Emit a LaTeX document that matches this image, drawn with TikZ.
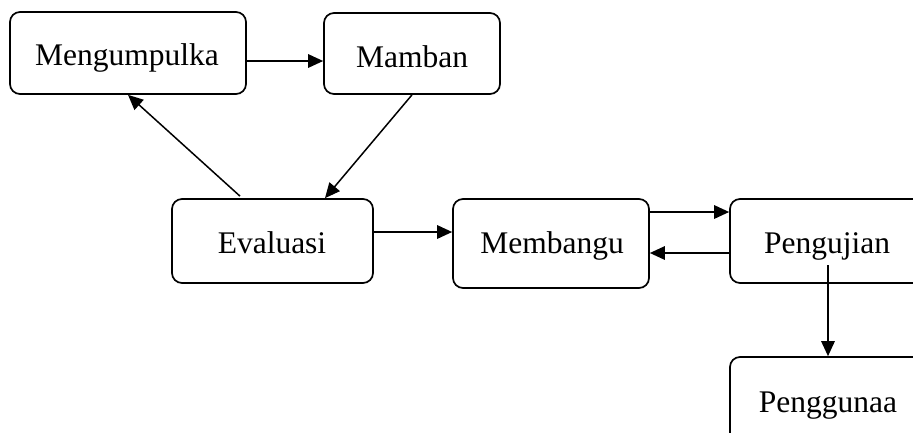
\documentclass[tikz,border=0pt]{standalone}
\usepackage{fontspec}
\setmainfont{Liberation Serif}
\usetikzlibrary{arrows.meta,calc}
\begin{document}
\begin{tikzpicture}[x=1pt,y=-1pt,
  box/.style={draw=black,line width=1.7pt,rounded corners=10pt,minimum width=#1,inner sep=0pt},
  lbl/.style={anchor=base,inner sep=0pt,font=\fontsize{31.5}{36}\selectfont},
  conn/.style={line width=1.5pt,-{Triangle[length=15pt,width=13.5pt]}}]
\useasboundingbox (0,0) rectangle (913,432);
\clip (0,0) rectangle (913,432);
\fill[white] (0,0) rectangle (913,432);
% boxes
\node[box=236pt,minimum height=82pt] (b1) at (128,53) {};
\node[box=176pt,minimum height=81pt] (b2) at (412,53.5) {};
\node[box=201pt,minimum height=84pt] (b3) at (272.5,241) {};
\node[box=196pt,minimum height=89pt] (b4) at (551,243.5) {};
\node[box=270pt,minimum height=84pt] (b5) at (865,241) {};
\node[box=270pt,minimum height=143pt] (b6) at (865,428.5) {};
% texts
\node[lbl] (t1) at (127,65) {Mengumpulka};
\node[lbl] (t2) at (412,67) {Mamban};
\node[lbl] (t3) at (272,253) {Evaluasi};
\node[lbl] (t4) at (552,253) {Membangu};
\node[lbl] (t5) at (827,253) {Pengujian};
\node[lbl] (t6) at (828,412) {Penggunaa};
% connectors
\draw[conn] ($(b1.east)+(0,8)$) coordinate (p1) -- (p1 -| b2.west);
\draw[conn] ($(b3.north)+(-32.5,-2)$) -- (b1.south);
\draw[conn] (b2.south) -- ($(b3.north)+(52.5,0)$);
\draw[conn] ($(b3.east)+(0,-9)$) coordinate (p2) -- (p2 -| b4.west);
\draw[conn] ($(b4.east)+(0,-31.5)$) coordinate (p3) -- (p3 -| b5.west);
\draw[conn] ($(b5.west)+(0,12)$) coordinate (p4) -- (p4 -| b4.east);
\draw[conn] ($(b5.center)+(-37,24)$) -- ($(b6.north)+(-37,0)$);
\end{tikzpicture}
\end{document}
